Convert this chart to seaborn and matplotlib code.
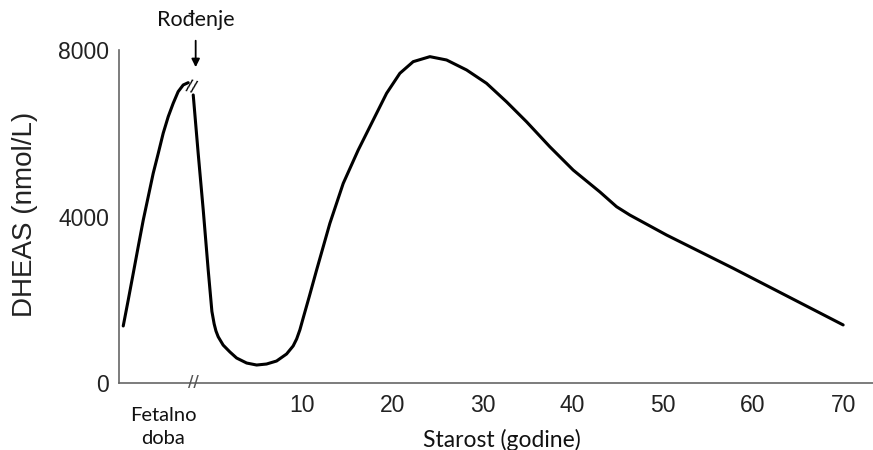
import numpy as np
import pandas as pd
import seaborn as sns
import matplotlib.pyplot as plt

# values (x: years, fetal part drawn left of 0)
fetal_age = [-9.83, -9.28, -8.72, -8.17, -7.61, -7.06, -6.51, -5.95, -5.40,
             -4.84, -4.29, -3.74, -3.18, -2.63]
fetal_dheas = [1370, 1990, 2635, 3275, 3915, 4475, 5035, 5515, 6000,
               6400, 6720, 7000, 7160, 7215]

post_age = [-2.07, -1.52, -0.96, -0.41, 0.0, 0.25, 0.45, 0.70, 1.25, 2.0,
            2.74, 3.85, 4.96, 6.06, 7.17, 8.28, 9.01, 9.4, 9.76, 10.12,
            10.8, 11.61, 13.08, 14.56, 16.22, 17.88, 19.37, 20.84, 22.32,
            24.17, 26.02, 28.24, 30.45, 32.67, 34.89, 37.47, 40.06, 43.02,
            44.87, 46.34, 50.41, 57.76, 69.99]
post_dheas = [6920, 5515, 4155, 2715, 1720, 1420, 1250, 1110, 910, 745,
              600, 480, 432, 456, 528, 697, 890, 1060, 1280, 1560,
              2080, 2715, 3835, 4795, 5595, 6315, 6960, 7440, 7720,
              7840, 7760, 7520, 7200, 6755, 6275, 5675, 5115, 4590,
              4235, 4035, 3555, 2760, 1395]

x_ticks = [10, 20, 30, 40, 50, 60, 70]
y_ticks = [0, 4000, 8000]

sns.set_style("white")
plt.rcParams['font.family'] = ['Liberation Sans', 'DejaVu Sans']

fig = plt.figure(figsize=(8.73, 4.5), dpi=100)
ax = fig.add_axes([119 / 873, 67 / 450, 754 / 873, 333 / 450])

fetal = pd.DataFrame({'age': fetal_age, 'dheas': fetal_dheas})
post = pd.DataFrame({'age': post_age, 'dheas': post_dheas})
for d in (fetal, post):
    sns.lineplot(data=d, x='age', y='dheas', ax=ax, color='black', lw=2.2,
                 solid_capstyle='round', solid_joinstyle='round')

ax.set_xlim(-10.3, 73.3)
ax.set_ylim(0, 8000)
ax.set_xticks(x_ticks)
ax.set_yticks(y_ticks)
ax.set_xlabel('')
ax.set_ylabel('DHEAS (nmol/L)', fontsize=20, color='#222222')
ax.yaxis.set_label_coords(-0.1247, 0.507)
ax.yaxis.label.set_va('center')

sns.despine(ax=ax)
for s in ('left', 'bottom'):
    ax.spines[s].set_color('#666666')
    ax.spines[s].set_linewidth(1.2)
ax.tick_params(direction='in', length=7, width=1.2, color='#666666',
               labelsize=16.5, labelcolor='#222222')
ax.tick_params(axis='x', pad=8)
ax.tick_params(axis='y', pad=7)

# axis break marks
ax.text(-2.1, 0, '//', fontsize=14, ha='center', va='center', color='#555555',
        clip_on=False)
ax.text(-2.35, 7080, '//', fontsize=13, ha='center', va='center', color='black',
        rotation=-15)

lab = dict(family=['Lato', 'DejaVu Sans'], color='#111111',
           ha='center', va='center')
ax.annotate('', xy=(-1.8, 7520), xytext=(-1.8, 8290),
            arrowprops=dict(arrowstyle='-|>', color='black', lw=1.3,
                            mutation_scale=12), annotation_clip=False)
ax.text(-1.8, 8720, 'Rođenje', fontsize=15.5, clip_on=False, **lab)
ax.text(-5.43, -1060, 'Fetalno\ndoba', fontsize=14.5, clip_on=False,
        linespacing=1.4, **lab)
ax.text(32.15, -1370, 'Starost (godine)', fontsize=16.5, clip_on=False, **lab)

fig.savefig('out.png', dpi=100)
